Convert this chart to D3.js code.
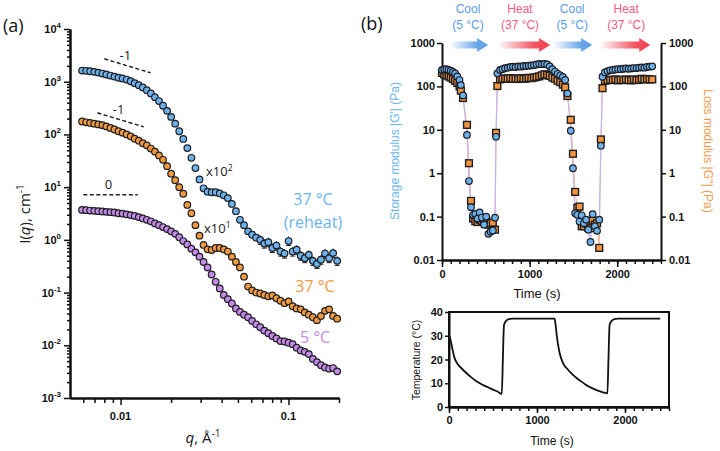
<!DOCTYPE html>
<html>
<head>
<meta charset="utf-8">
<script src="https://cdn.jsdelivr.net/npm/d3@7"></script>
<style>
  body { margin: 0; background: #fff; }
  svg { display: block; }
  .lbl { font-family: "Liberation Sans", Arial, sans-serif; font-weight: bold; font-size: 11px; fill: #111; }
  .soft { font-family: "Open Sans", "Noto Sans", sans-serif; }
</style>
</head>
<body>
<svg id="fig" width="720" height="451"></svg>
<script>
// ---------- panel (a): SAXS curves ----------
var qValues = [0.00590, 0.00624, 0.00659, 0.00697, 0.00737, 0.00779, 0.00823, 0.00870, 0.00920, 0.00972,
               0.01028, 0.01087, 0.01149, 0.01214, 0.01284, 0.01357, 0.01434, 0.01516, 0.01603, 0.01694,
               0.01791, 0.01893, 0.02001, 0.02116, 0.02236, 0.02364, 0.02499, 0.02642, 0.02793, 0.02952,
               0.03121, 0.03299, 0.03487, 0.03686, 0.03897, 0.04120, 0.04355, 0.04603, 0.04866, 0.05144,
               0.05438, 0.05749, 0.06077, 0.06424, 0.06791, 0.07179, 0.07589, 0.08022, 0.08480, 0.08964,
               0.09476, 0.1002, 0.1059, 0.1119, 0.1183, 0.1251, 0.1322, 0.1398, 0.1478, 0.1562,
               0.1651, 0.1746, 0.1845, 0.1951];

// 37 °C reheat (x10^2)
var reheat37 = [1630, 1610, 1580, 1540, 1490, 1430, 1370, 1310, 1250, 1190,
                1150, 1100, 1020, 940, 860, 780, 690, 600, 510, 430,
                350, 280, 215, 160, 115, 82, 55, 36, 23, 14,
                9.5, 8.2, 8.0, 8.0, 7.6, 7.0, 6.2, 4.8, 3.5, 2.4,
                1.9, 1.45, 1.25, 1.1, 1.0, 0.85, 0.9, 0.7, 0.78, 0.6,
                0.55, 0.95, 0.6, 0.65, 0.5, 0.45, 0.52, 0.4, 0.35, 0.42,
                0.55, 0.45, 0.56, 0.4];

// 37 °C (x10^1)
var heat37 = [176, 170, 165, 160, 155, 150, 142, 133, 124, 115,
              108, 100, 92, 83, 76, 68, 62, 54, 47, 40,
              33, 25, 18, 13.5, 10, 7.5, 4.6, 3.2, 1.9, 1.2,
              0.8, 0.66, 0.64, 0.7, 0.7, 0.66, 0.6, 0.48, 0.38, 0.3,
              0.2, 0.13, 0.11, 0.1, 0.096, 0.09, 0.085, 0.088, 0.078, 0.07,
              0.063, 0.068, 0.055, 0.05, 0.048, 0.042, 0.038, 0.034, 0.03, 0.036,
              0.045, 0.048, 0.036, 0.032];

// 5 °C
var cool5 = [3.7, 3.65, 3.6, 3.55, 3.5, 3.45, 3.4, 3.35, 3.3, 3.2,
             3.15, 3.05, 2.95, 2.85, 2.7, 2.55, 2.4, 2.25, 2.05, 1.9,
             1.75, 1.6, 1.45, 1.3, 1.12, 0.95, 0.82, 0.68, 0.58, 0.48,
             0.38, 0.3, 0.22, 0.16, 0.12, 0.09, 0.075, 0.062, 0.05, 0.043,
             0.038, 0.034, 0.029, 0.025, 0.022, 0.019, 0.017, 0.015, 0.0135, 0.012,
             0.0118, 0.0112, 0.0105, 0.009, 0.008, 0.0075, 0.0068, 0.0055, 0.0048, 0.0042,
             0.0038, 0.0036, 0.0037, 0.0032];

var slopeGuides = [
  {label: "-1", q: [0.0080, 0.0151], I: [2720, 1475]},
  {label: "-1", q: [0.00728, 0.01374], I: [257, 139]},
  {label: "0",  q: [0.0060, 0.01265], I: [7.14, 7.14]}
];

// ---------- panel (b): rheology ----------
var timeG = [0, 25, 50, 75, 100, 125, 150, 175, 200, 215, 240, 285, 308, 331, 355, 380, 405, 430, 455, 480,
             505, 530, 555, 580, 605,
             617, 632, 663, 690, 720, 750, 780, 810, 840, 870, 900, 930, 960, 990, 1020, 1050, 1080, 1110,
             1140, 1170, 1200,
             1230, 1260, 1290, 1320, 1350, 1380, 1406, 1432, 1470, 1495, 1520, 1545, 1570, 1595, 1620, 1645,
             1670, 1695, 1720, 1745, 1770, 1795,
             1814, 1832, 1860, 1890, 1920, 1950, 1980, 2010, 2040, 2070, 2100, 2130, 2160, 2190, 2220, 2250,
             2280, 2310, 2340, 2370, 2400];
var storageG = [240, 245, 250, 240, 230, 215, 200, 170, 140, 107, 62, 7.6, 0.66, 0.165, 0.11, 0.115, 0.09, 0.125, 0.095, 0.065,
                0.1, 0.04, 0.045, 0.048, 0.094,
                6.9, 200, 240, 250, 262, 270, 280, 285, 280, 290, 285, 295, 295, 300, 305, 310, 320, 330,
                325, 330, 320,
                290, 250, 220, 195, 180, 165, 141, 69, 9.5, 1.3, 0.12, 0.11, 0.077, 0.107, 0.07, 0.085,
                0.05, 0.026, 0.114, 0.06, 0.047, 0.085,
                4.3, 167, 210, 225, 235, 240, 245, 250, 250, 255, 260, 255, 260, 265, 265, 270,
                275, 270, 280, 285, 290];
var lossG = [205, 190, 180, 170, 160, 148, 135, 120, 100, 80, 54, 13, 1.7, 0.23, 0.09, 0.078, 0.075, 0.085, 0.08, 0.085,
             0.08, 0.065, 0.07, 0.072, 0.05,
             8.5, 102, 146, 150, 152, 150, 155, 150, 152, 148, 155, 150, 152, 158, 155, 160, 165, 170,
             180, 190, 185,
             175, 160, 150, 135, 125, 110, 95, 60, 17, 2.8, 0.37, 0.16, 0.17, 0.06, 0.06, 0.07,
             0.055, 0.054, 0.08, 0.065, 0.07, 0.019,
             6.0, 91, 135, 140, 142, 140, 145, 138, 142, 140, 145, 140, 138, 145, 140, 142,
             150, 145, 148, 145, 145];

var timeT = [0, 15, 30, 60, 100, 150, 200, 250, 300, 350, 400, 450, 500, 550, 600,
             612, 625, 650, 680, 720, 1200,
             1210, 1225, 1250, 1270, 1300, 1350, 1400, 1450, 1500, 1550, 1600, 1650, 1700, 1750, 1800,
             1812, 1825, 1850, 1880, 1920, 2400];
var tempC = [30.5, 28.5, 26, 21, 18, 16, 14.2, 12.6, 11.2, 10, 9, 8.2, 7.3, 6.5, 5.5,
             20, 34.5, 36.3, 37, 37.2, 37.2,
             35, 30, 24, 21, 18.2, 15.8, 13.8, 12.2, 10.8, 9.5, 8.4, 7.5, 6.8, 6.2, 5.7,
             20, 34.5, 36.3, 37, 37.2, 37.2];

var stepArrows = [
  {kind: "cool", t0: 90, t1: 526, line1: "Cool", line2: "(5 °C)", tc: 297},
  {kind: "heat", t0: 640, t1: 1234, line1: "Heat", line2: "(37 °C)", tc: 891},
  {kind: "cool", t0: 1269, t1: 1714, line1: "Cool", line2: "(5 °C)", tc: 1486},
  {kind: "heat", t0: 1806, t1: 2377, line1: "Heat", line2: "(37 °C)", tc: 2103}
];

var svg = d3.select("#fig");
var dark = "#1e1e24";

function minorLog(lo, hi) {
  var out = [];
  for (var e = lo; e < hi; e++) {
    for (var k = 2; k <= 9; k++) out.push(k * Math.pow(10, e));
  }
  return out;
}

function styleAxis(g, w) {
  g.select(".domain").attr("stroke", "#111").attr("stroke-width", w);
  g.selectAll(".tick line").attr("stroke", "#111").attr("stroke-width", 1.5);
}

// ================= panel (a) =================
var xA = d3.scaleLog().domain([0.005, 0.2]).range([70, 339]);
var yA = d3.scaleLog().domain([1e-3, 1e4]).range([398, 29]);
var yMajor = [1e-3, 1e-2, 1e-1, 1, 10, 100, 1000, 10000];
var yExp = ["-3", "-2", "-1", "0", "1", "2", "3", "4"];

var ga = svg.append("g");

ga.append("g").attr("transform", "translate(70,0)")
  .call(d3.axisLeft(yA).tickValues(minorLog(-3, 4)).tickSize(3).tickSizeOuter(0).tickFormat(""))
  .call(styleAxis, 2);
ga.append("g").attr("transform", "translate(70,0)")
  .call(d3.axisLeft(yA).tickValues(yMajor).tickSize(6).tickSizeOuter(0).tickFormat(""))
  .call(styleAxis, 2);

yMajor.forEach(function(v, i) {
  var t = ga.append("text").attr("class", "lbl")
    .attr("x", 61).attr("y", yA(v) + 4).attr("text-anchor", "end");
  t.append("tspan").text("10");
  t.append("tspan").attr("dy", -5).attr("font-size", 8).text(yExp[i]);
});

var xMinorA = [0.006, 0.007, 0.008, 0.009, 0.02, 0.03, 0.04, 0.05, 0.06, 0.07, 0.08, 0.09, 0.2];
ga.append("g").attr("transform", "translate(0,398)")
  .call(d3.axisBottom(xA).tickValues(xMinorA).tickSize(5).tickSizeOuter(0).tickFormat(""))
  .call(styleAxis, 2);
ga.append("g").attr("transform", "translate(0,398)")
  .call(d3.axisBottom(xA).tickValues([0.01, 0.1]).tickSize(7).tickSizeOuter(0).tickFormat(""))
  .call(styleAxis, 2);
[0.01, 0.1].forEach(function(v) {
  ga.append("text").attr("class", "lbl").attr("font-size", 11.5)
    .attr("x", xA(v)).attr("y", 420).attr("text-anchor", "middle").text(v === 0.01 ? "0.01" : "0.1");
});

// axis titles
var yt = ga.append("text").attr("class", "soft").attr("font-size", 15).attr("fill", "#222")
  .attr("text-anchor", "middle").attr("transform", "translate(30,214) rotate(-90)");
yt.append("tspan").text("I(");
yt.append("tspan").attr("font-style", "italic").text("q");
yt.append("tspan").text("), cm");
yt.append("tspan").attr("dy", -6).attr("font-size", 10).text("-1");

var xt = ga.append("text").attr("class", "soft").attr("font-size", 15).attr("fill", "#222")
  .attr("text-anchor", "middle").attr("x", 203).attr("y", 443);
xt.append("tspan").attr("font-style", "italic").text("q");
xt.append("tspan").text(", Å");
xt.append("tspan").attr("dy", -6).attr("font-size", 10).text("-1");

// slope guides
slopeGuides.forEach(function(s) {
  ga.append("line")
    .attr("x1", xA(s.q[0])).attr("y1", yA(s.I[0]))
    .attr("x2", xA(s.q[1])).attr("y2", yA(s.I[1]))
    .attr("stroke", "#222").attr("stroke-width", 1.5).attr("stroke-dasharray", "4,2.5");
  var mx = (xA(s.q[0]) + xA(s.q[1])) / 2 - 2;
  var my = (yA(s.I[0]) + yA(s.I[1])) / 2 - 6;
  ga.append("text").attr("class", "soft").attr("font-size", 13).attr("fill", "#222")
    .attr("x", mx).attr("y", my).attr("text-anchor", "middle").text(s.label);
});

var seriesA = [
  {values: cool5, fill: "#c48ae8"},
  {values: heat37, fill: "#f39a3c"},
  {values: reheat37, fill: "#6cb2ec"}
];

// error bars on the noisy reheat tail
var errG = ga.append("g").attr("stroke", dark).attr("stroke-width", 1);
reheat37.forEach(function(v, i) {
  if (i < 44) return;
  var x = xA(qValues[i]);
  errG.append("line").attr("x1", x).attr("x2", x).attr("y1", yA(v * 1.22)).attr("y2", yA(v / 1.22));
  errG.append("line").attr("x1", x - 2.5).attr("x2", x + 2.5).attr("y1", yA(v / 1.22)).attr("y2", yA(v / 1.22));
});

seriesA.forEach(function(s) {
  ga.append("g").selectAll("circle").data(s.values).enter().append("circle")
    .attr("cx", function(d, i) { return xA(qValues[i]); })
    .attr("cy", function(d) { return yA(d); })
    .attr("r", 3.3)
    .attr("fill", s.fill)
    .attr("stroke", dark)
    .attr("stroke-width", 1.2);
});

// series annotations
ga.append("text").attr("class", "soft").attr("font-size", 13).attr("fill", "#222")
  .attr("x", 206).attr("y", 176).text("x10").append("tspan").attr("dy", -5).attr("font-size", 8.5).text("2");
ga.append("text").attr("class", "soft").attr("font-size", 13).attr("fill", "#222")
  .attr("x", 204).attr("y", 233).text("x10").append("tspan").attr("dy", -5).attr("font-size", 8.5).text("1");

ga.append("text").attr("class", "soft").attr("font-size", 16).attr("fill", "#6cb4f0")
  .attr("x", 313).attr("y", 205).attr("text-anchor", "middle").text("37 °C");
ga.append("text").attr("class", "soft").attr("font-size", 16).attr("fill", "#6cb4f0")
  .attr("x", 313).attr("y", 228).attr("text-anchor", "middle").text("(reheat)");
ga.append("text").attr("class", "soft").attr("font-size", 16).attr("fill", "#f39a3c")
  .attr("x", 315).attr("y", 292).attr("text-anchor", "middle").text("37 °C");
ga.append("text").attr("class", "soft").attr("font-size", 16).attr("fill", "#c48ae8")
  .attr("x", 315).attr("y", 343).attr("text-anchor", "middle").text("5 °C");

svg.append("text").attr("class", "soft").attr("font-size", 18).attr("fill", "#111")
  .attr("x", 3).attr("y", 32).text("(a)");
svg.append("text").attr("class", "soft").attr("font-size", 18).attr("fill", "#111")
  .attr("x", 361).attr("y", 30).text("(b)");

// ================= panel (b) top: moduli =================
var xB = d3.scaleLinear().domain([0, 2500]).range([442, 661]);
var yB = d3.scaleLog().domain([0.01, 1000]).range([260, 43]);
var gMajor = [0.01, 0.1, 1, 10, 100, 1000];
var gLabels = ["0.01", "0.1", "1", "10", "100", "1000"];

var gb = svg.append("g");

gb.append("g").attr("class", "lbl").attr("transform", "translate(442,0)")
  .call(d3.axisLeft(yB).tickValues(gMajor).tickSize(5).tickPadding(2).tickSizeOuter(0)
        .tickFormat(function(d, i) { return gLabels[i]; }))
  .call(styleAxis, 2);
gb.append("g").attr("class", "lbl").attr("transform", "translate(661,0)")
  .call(d3.axisRight(yB).tickValues(gMajor).tickSize(5).tickPadding(3).tickSizeOuter(0)
        .tickFormat(function(d, i) { return gLabels[i]; }))
  .call(styleAxis, 2);

var minorT = d3.range(0, 2501, 100);
gb.append("g").attr("transform", "translate(0,260)")
  .call(d3.axisBottom(xB).tickValues(minorT).tickSize(4).tickSizeOuter(0).tickFormat(""))
  .call(styleAxis, 2);
gb.append("g").attr("class", "lbl").attr("transform", "translate(0,260)")
  .call(d3.axisBottom(xB).tickValues([0, 1000, 2000]).tickSize(7).tickPadding(3).tickSizeOuter(0).tickFormat(d3.format("d")))
  .call(styleAxis, 2);
gb.selectAll(".tick text").attr("fill", "#111").attr("font-size", 11);

gb.append("text").attr("font-family", "Liberation Sans, Arial, sans-serif").attr("font-size", 13).attr("fill", "#111")
  .attr("x", 537).attr("y", 298).attr("text-anchor", "middle").text("Time (s)");
gb.append("text").attr("font-family", "Liberation Sans, Arial, sans-serif").attr("font-size", 12).attr("fill", "#6cb4f0")
  .attr("text-anchor", "middle").attr("transform", "translate(399,151) rotate(-90)").text("Storage modulus |G'| (Pa)");
gb.append("text").attr("font-family", "Liberation Sans, Arial, sans-serif").attr("font-size", 12).attr("fill", "#f39a4a")
  .attr("text-anchor", "middle").attr("transform", "translate(704,151) rotate(90)").text("Loss modulus |G''| (Pa)");

// connecting lines
var lineG1 = d3.line().x(function(d, i) { return xB(timeG[i]); }).y(function(d) { return yB(d); });
gb.append("path").datum(lossG).attr("d", lineG1).attr("fill", "none").attr("stroke", "#f4b896").attr("stroke-width", 1);
gb.append("path").datum(storageG).attr("d", lineG1).attr("fill", "none").attr("stroke", "#c4b4ec").attr("stroke-width", 1.2);

gb.append("g").selectAll("rect").data(lossG).enter().append("rect")
  .attr("x", function(d, i) { return xB(timeG[i]) - 3.4; })
  .attr("y", function(d) { return yB(d) - 3.4; })
  .attr("width", 6.8).attr("height", 6.8)
  .attr("fill", "#f3963c").attr("stroke", dark).attr("stroke-width", 1.4);
gb.append("g").selectAll("circle").data(storageG).enter().append("circle")
  .attr("cx", function(d, i) { return xB(timeG[i]); })
  .attr("cy", function(d) { return yB(d); })
  .attr("r", 3.3)
  .attr("fill", "#6cb2ec").attr("stroke", dark).attr("stroke-width", 1.2);

// step arrows
var defs = svg.append("defs");
var grads = {cool: ["#5a9ee6", "coolGrad"], heat: ["#f2404e", "heatGrad"]};
Object.keys(grads).forEach(function(k) {
  var lg = defs.append("linearGradient").attr("id", grads[k][1]).attr("x1", "0%").attr("x2", "100%");
  lg.append("stop").attr("offset", "0%").attr("stop-color", grads[k][0]).attr("stop-opacity", 0);
  lg.append("stop").attr("offset", "70%").attr("stop-color", grads[k][0]).attr("stop-opacity", 0.9);
  lg.append("stop").attr("offset", "100%").attr("stop-color", grads[k][0]).attr("stop-opacity", 1);
});
stepArrows.forEach(function(a) {
  var x0 = xB(a.t0), x1 = xB(a.t1), xh = x1 - 11, yc = yB(1000) + 2;
  var pts = [[x0, yc - 3.5], [xh, yc - 3.5], [xh, yc - 7], [x1, yc], [xh, yc + 7], [xh, yc + 3.5], [x0, yc + 3.5]];
  gb.append("polygon").attr("points", pts.map(function(p) { return p.join(","); }).join(" "))
    .attr("fill", "url(#" + grads[a.kind][1] + ")");
  var col = a.kind === "cool" ? "#5b9be6" : "#ef5a86";
  gb.append("text").attr("font-family", "Liberation Sans, Arial, sans-serif").attr("font-size", 12).attr("fill", col)
    .attr("x", xB(a.tc)).attr("y", 13).attr("text-anchor", "middle").text(a.line1);
  gb.append("text").attr("font-family", "Liberation Sans, Arial, sans-serif").attr("font-size", 12).attr("fill", col)
    .attr("x", xB(a.tc)).attr("y", 29).attr("text-anchor", "middle").text(a.line2);
});

// ================= panel (b) bottom: temperature =================
var xT = d3.scaleLinear().domain([0, 2500]).range([449, 669]);
var yT = d3.scaleLinear().domain([0, 40]).range([407, 312]);

var gt = svg.append("g");
gt.append("rect").attr("x", 449).attr("y", 312).attr("width", 220).attr("height", 95)
  .attr("fill", "none").attr("stroke", "#111").attr("stroke-width", 2);
gt.append("g").attr("class", "lbl").attr("transform", "translate(449,0)")
  .call(d3.axisLeft(yT).tickValues([0, 10, 20, 30, 40]).tickSize(4).tickPadding(2).tickSizeOuter(0))
  .call(styleAxis, 2);
gt.append("g").attr("transform", "translate(0,407)")
  .call(d3.axisBottom(xT).tickValues(minorT).tickSize(4).tickSizeOuter(0).tickFormat(""))
  .call(styleAxis, 2);
gt.append("g").attr("class", "lbl").attr("transform", "translate(0,407)")
  .call(d3.axisBottom(xT).tickValues([0, 1000, 2000]).tickSize(6).tickPadding(3).tickSizeOuter(0).tickFormat(d3.format("d")))
  .call(styleAxis, 2);
gt.selectAll(".tick text").attr("fill", "#111").attr("font-size", 11);

gt.append("text").attr("font-family", "Liberation Sans, Arial, sans-serif").attr("font-size", 12).attr("fill", "#111")
  .attr("x", 552).attr("y", 445).attr("text-anchor", "middle").text("Time (s)");
gt.append("text").attr("font-family", "Liberation Sans, Arial, sans-serif").attr("font-size", 10.5).attr("fill", "#111")
  .attr("text-anchor", "middle").attr("transform", "translate(420,360) rotate(-90)").text("Temperature (°C)");

var tempLine = d3.line().x(function(d, i) { return xT(timeT[i]); }).y(function(d) { return yT(d); })
  .curve(d3.curveMonotoneX);
gt.append("path").datum(tempC).attr("d", tempLine).attr("fill", "none").attr("stroke", "#111").attr("stroke-width", 1.8);
</script>
</body>
</html>
